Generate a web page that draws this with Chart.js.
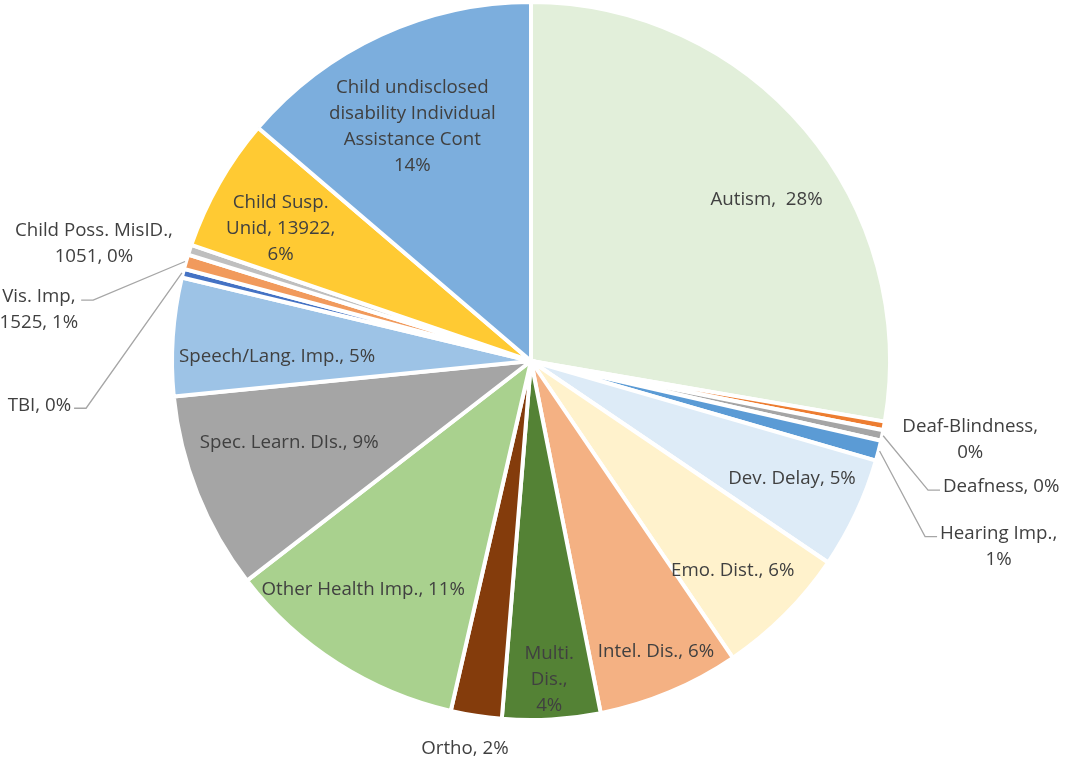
<!DOCTYPE html>
<html>
<head>
<meta charset="utf-8">
<script src="https://cdn.jsdelivr.net/npm/chart.js@4.4.1/dist/chart.umd.min.js"></script>
<style>
  html, body { margin: 0; padding: 0; background: #ffffff; }
  #wrap { width: 1069px; height: 757px; position: relative; }
</style>
</head>
<body>
<div id="wrap"><canvas id="pieChart"></canvas></div>
<script>
// Categories, clockwise from 12 o'clock
const categories = [
    'Autism', 'Deaf-Blindness', 'Deafness', 'Hearing Imp.', 'Dev. Delay',
    'Emo. Dist.', 'Intel. Dis.', 'Multi. Dis.', 'Ortho', 'Other Health Imp.',
    'Spec. Learn. DIs.', 'Speech/Lang. Imp.', 'TBI', 'Vis. Imp',
    'Child Poss. MisID.', 'Child Susp. Unid',
    'Child undisclosed disability Individual Assistance Cont'
];

// Counts (except those printed on the chart)
const counts = [
    64100, 900, 1100, 2100, 11600,
    13900, 14800, 10200, 5300, 25300,
    20600, 12300, 900, 1525,
    1051, 13922,
    31800
];

// Label text; '|' = line break, {v} = count, {p} = percent
const labelTemplates = [
    'Autism,  {p}', 'Deaf-Blindness,|{p}', 'Deafness, {p}', 'Hearing Imp.,|{p}', 'Dev. Delay, {p}',
    'Emo. Dist., {p}', 'Intel. Dis., {p}', 'Multi.|Dis.,|{p}', 'Ortho, {p}', 'Other Health Imp., {p}',
    'Spec. Learn. DIs., {p}', 'Speech/Lang. Imp., {p}', 'TBI, {p}', 'Vis. Imp,|{v}, {p}',
    'Child Poss. MisID.,|{v}, {p}', 'Child Susp.|Unid, {v},|{p}',
    'Child undisclosed|disability Individual|Assistance Cont|{p}'
];

const sliceColors = [
    '#E2EFDA', '#ED7D31', '#A5A5A5', '#5B9BD5', '#DDEBF7',
    '#FFF2CC', '#F4B183', '#548235', '#843C0C', '#A9D18E',
    '#A5A5A5', '#9DC3E6', '#4472C4', '#F19A5C',
    '#BFBFBF', '#FFCA33',
    '#7CAEDD'
];

// Label placement: k = fraction of radius along slice middle, dx/dy = nudge,
// leader = side of the leader line (null = none)
const labelPlacement = [
    { k: 0.80, dx: 16, dy: 24 },
    { k: 1.244, dx: 0, dy: -2 },
    { k: 1.356, dx: -6, dy: 25, leader: 'right' },
    { k: 1.40, dx: -19, dy: 60, leader: 'right' },
    { k: 0.80, dx: 1, dy: -4 },
    { k: 0.81, dx: -4, dy: 4 },
    { k: 0.88, dx: 3, dy: -1 },
    { k: 0.89, dx: 0, dy: 0 },
    { k: 1.095, dx: -6, dy: -1 },
    { k: 0.79, dx: -15, dy: -10 },
    { k: 0.71, dx: -5, dy: -13 },
    { k: 0.706, dx: -1, dy: 13 },
    { k: 1.375, dx: -13, dy: 165, leader: 'left' },
    { k: 1.38, dx: -16, dy: 86, leader: 'left' },
    { k: 1.26, dx: -7, dy: 23 },
    { k: 0.79, dx: -4, dy: 8 },
    { k: 0.73, dx: -9, dy: 4 }
];

const total = counts.reduce((a, b) => a + b, 0);

function labelLines(i) {
    const pct = Math.round(counts[i] / total * 100) + '%';
    return labelTemplates[i].replace('{v}', counts[i]).replace('{p}', pct).split('|');
}

const FONT = '18.7px "Open Sans", "Lato", sans-serif';
const LINE_H = 26;

const sliceLabels = {
    id: 'sliceLabels',
    afterDatasetsDraw(chart) {
        const ctx = chart.ctx;
        const meta = chart.getDatasetMeta(0);
        ctx.save();
        ctx.font = FONT;
        ctx.fillStyle = '#404040';
        ctx.textAlign = 'center';
        ctx.textBaseline = 'middle';
        meta.data.forEach(function(arc, i) {
            const p = arc.getProps(['x', 'y', 'startAngle', 'endAngle', 'outerRadius'], true);
            const mid = (p.startAngle + p.endAngle) / 2;
            const lp = labelPlacement[i];
            const ax = p.x + Math.cos(mid) * p.outerRadius * lp.k + lp.dx;
            const ay = p.y + Math.sin(mid) * p.outerRadius * lp.k + lp.dy;
            const lines = labelLines(i);
            const top = ay - (lines.length - 1) * LINE_H / 2;
            const w = Math.max.apply(null, lines.map(l => ctx.measureText(l).width));

            if (lp.leader) {
                const sx = p.x + Math.cos(mid) * (p.outerRadius + 1);
                const sy = p.y + Math.sin(mid) * (p.outerRadius + 1);
                const ly = top + 3;
                const endX = lp.leader === 'right' ? ax - w / 2 - 3 : ax + w / 2 + 3;
                const elbowX = lp.leader === 'right' ? endX - 12 : endX + 12;
                ctx.beginPath();
                ctx.strokeStyle = '#A6A6A6';
                ctx.lineWidth = 1.3;
                ctx.moveTo(sx, sy);
                ctx.lineTo(elbowX, ly);
                ctx.lineTo(endX, ly);
                ctx.stroke();
            }

            lines.forEach(function(line, j) {
                ctx.fillText(line, ax, top + j * LINE_H);
            });
        });
        ctx.restore();
    }
};

new Chart(document.getElementById('pieChart'), {
    type: 'pie',
    data: {
        labels: categories,
        datasets: [{
            data: counts,
            backgroundColor: sliceColors,
            borderColor: '#ffffff',
            borderWidth: 4
        }]
    },
    options: {
        responsive: true,
        maintainAspectRatio: false,
        animation: false,
        layout: { padding: { top: 0, bottom: 35, left: 0, right: 7 } },
        plugins: {
            legend: { display: false },
            tooltip: { enabled: false }
        }
    },
    plugins: [sliceLabels]
});
</script>
</body>
</html>
